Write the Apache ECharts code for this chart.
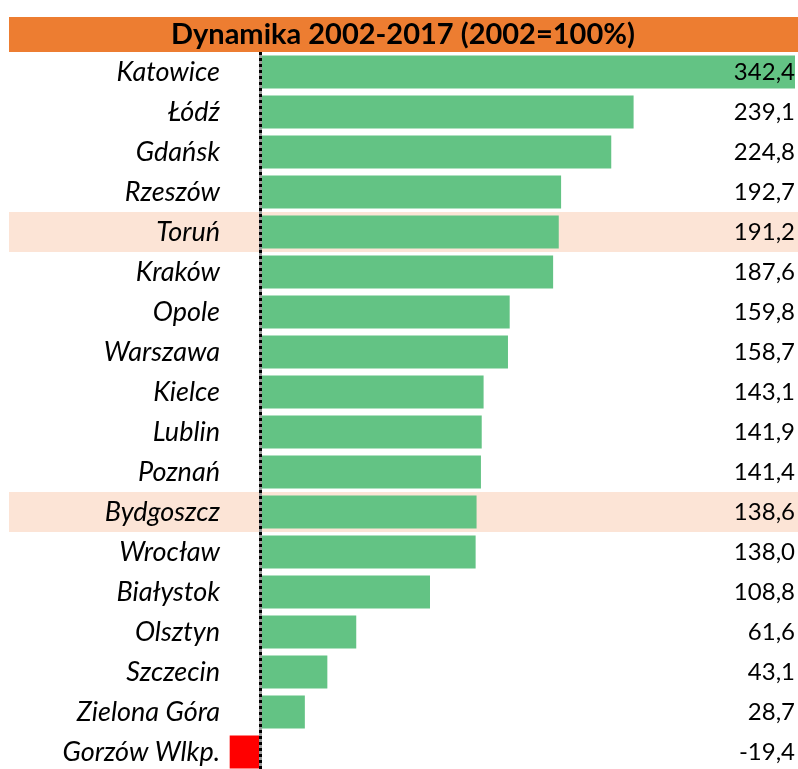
<!DOCTYPE html>
<html><head><meta charset="utf-8">
<script src="https://cdn.jsdelivr.net/npm/echarts@6/dist/echarts.min.js"></script>
<style>html,body{margin:0;padding:0;background:#fff}#c{width:798px;height:769px}</style>
</head><body><div id="c"></div>
<script>
const titleText = 'Dynamika 2002-2017 (2002=100%)';
const cities = ['Katowice','Łódź','Gdańsk','Rzeszów','Toruń','Kraków','Opole','Warszawa','Kielce','Lublin','Poznań','Bydgoszcz','Wrocław','Białystok','Olsztyn','Szczecin','Zielona Góra','Gorzów Wlkp.'];
const values = [342.4,239.1,224.8,192.7,191.2,187.6,159.8,158.7,143.1,141.9,141.4,138.6,138.0,108.8,61.6,43.1,28.7,-19.4];
const highlighted = ['Toruń','Bydgoszcz'];

const FONT = 'Lato, "Liberation Sans", sans-serif';
const fmt = v => v.toFixed(1).replace('.', ',');
const chart = echarts.init(document.getElementById('c'));
chart.setOption({
  animation: false,
  graphic: [{
    type: 'rect', shape: {x: 9, y: 17, width: 789, height: 35},
    style: {fill: '#ED7D31'}, silent: true
  }, {
    type: 'text', x: 403, y: 35,
    style: {text: titleText, font: 'bold 29px ' + FONT, fill: '#000', textAlign: 'center', textVerticalAlign: 'middle'}
  }],
  grid: {left: 9, right: 0, top: 52, height: 720, containLabel: false, outerBoundsMode: 'none'},
  xAxis: {type: 'value', min: -160.64, max: 344.32, show: false},
  yAxis: [{
    type: 'category', data: cities, inverse: true,
    axisLine: {show: false, onZero: false},
    axisTick: {show: false},
    axisLabel: {margin: -211, align: 'right', interval: 0, fontSize: 27, fontStyle: 'italic', color: '#000', fontFamily: FONT, padding: [4, 0, 0, 0]},
    splitArea: {show: true, interval: 0, areaStyle: {color: cities.map(c => highlighted.includes(c) ? '#FCE4D6' : 'rgba(0,0,0,0)')}}
  }, {
    type: 'category', data: values.map(fmt), inverse: true, position: 'right', z: 3,
    axisLine: {show: false}, axisTick: {show: false},
    axisLabel: {inside: true, interval: 0, margin: 3, fontSize: 24, color: '#000', fontFamily: FONT, padding: [3, 0, 0, 0]}
  }],
  series: [{
    type: 'bar', data: values, barWidth: 33,
    itemStyle: {color: p => p.value < 0 ? '#FF0000' : '#63C384'},
    markLine: {
      silent: true, symbol: 'none', label: {show: false},
      data: [
        {xAxis: 0, lineStyle: {color: '#9a9a9a', width: 3, type: 'solid'}},
        {xAxis: 0, lineStyle: {color: '#000', width: 3, type: [3, 3]}}
      ]
    }
  }]
});
</script></body></html>
